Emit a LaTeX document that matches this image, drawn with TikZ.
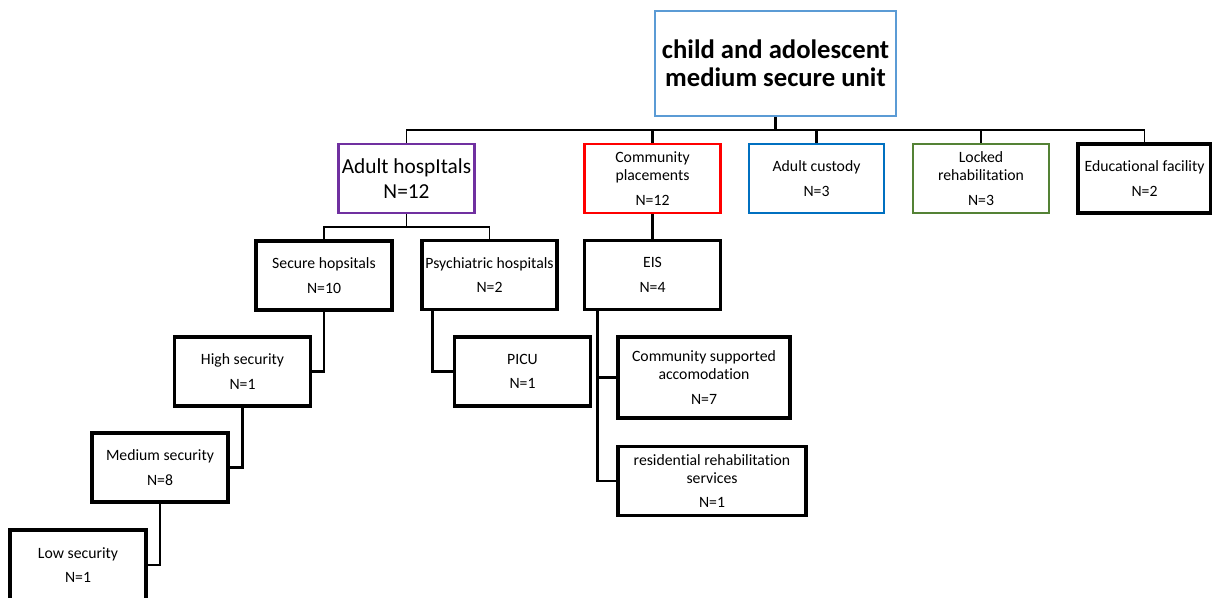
\documentclass[tikz,border=0pt]{standalone}
\usepackage{fontspec}
\setmainfont{Carlito}[Ligatures=NoCommon]
\usetikzlibrary{calc}

\definecolor{rootblue}{HTML}{5B9BD5}
\definecolor{adultpurple}{HTML}{7030A0}
\definecolor{custodyblue}{HTML}{0070C0}
\definecolor{lockedgreen}{HTML}{548235}

\tikzset{
  unitbox/.style={draw, line width=2.4pt, inner sep=0pt, align=center,
    minimum width=102pt, minimum height=51.75pt,
    font=\fontsize{11.8}{13.5}\selectfont},
  topbox/.style={unitbox, line width=1.9pt},
  thinlink/.style={line width=0.8pt},
  thicklink/.style={line width=2.2pt},
}

\begin{document}
\begin{tikzpicture}[x=0.75pt, y=-0.75pt]
  \useasboundingbox (0,0) rectangle (1212,597);

  % root
  \node[topbox, draw=rootblue, minimum width=180.75pt, minimum height=78.75pt,
    font=\bfseries\fontsize{20}{21}\selectfont] (root) at (775.5,63.5)
    {child and adolescent\\medium secure unit};

  % first level
  \node[topbox, draw=adultpurple, font=\fontsize{16}{18.75}\selectfont] (AH) at (406.5,178.5)
    {Adult hospItals\\N=12};
  \node[topbox, draw=red] (CP) at (652.5,178.5) {Community\\placements\\[5pt]N=12};
  \node[topbox, draw=custodyblue, minimum width=101.25pt] (AC) at (816.5,178.5) {Adult custody\\[5pt]N=3};
  \node[topbox, draw=lockedgreen] (LR) at (981,178.5) {Locked\\rehabilitation\\[5pt]N=3};
  \node[unitbox, line width=2.6pt, minimum width=99.75pt] (ED) at (1144.5,178.5) {Educational facility\\[5pt]N=2};

  % second level
  \node[unitbox] (SH) at (324,275.5) {Secure hopsitals\\[5pt]N=10};
  \node[unitbox, minimum width=101.25pt] (PH) at (489.5,275) {Psychiatric hospitals\\[5pt]N=2};
  \node[unitbox] (EIS) at (652.5,275) {EIS\\[5pt]N=4};

  % third level and below
  \node[unitbox] (HS) at (242.5,371.5) {High security\\[5pt]N=1};
  \node[unitbox] (MS) at (160,467.5) {Medium security\\[5pt]N=8};
  \node[unitbox, minimum height=52.5pt] (LS) at (78,565) {Low security\\[5pt]N=1};
  \node[unitbox] (PICU) at (522.5,371.5) {PICU\\[5pt]N=1};
  \node[unitbox, minimum width=129pt, minimum height=60.75pt] (CSA) at (704,377.5)
    {Community supported\\accomodation\\[5pt]N=7};
  \node[unitbox, minimum width=141pt] (RR) at (712,481)
    {residential rehabilitation\\services\\[5pt]N=1};

  \coordinate (bus) at (775.5,130);
  \coordinate (hbus) at (406.5,227);

  % connectors
  \draw[thicklink] (root.south) -- (bus);
  \draw[thinlink] (AH.north) |- (CP.north |- bus);
  \draw[thicklink] (CP.north) |- (bus) -| (AC.north);
  \draw[thinlink] (AC.north |- bus) -| (ED.north);
  \draw[thinlink] (LR.north) -- (LR.north |- bus);

  \draw[thinlink] (AH.south) -- (hbus);
  \draw[thinlink] (SH.north) |- (hbus) -| (PH.north);
  \draw[thicklink] (CP.south) -- (EIS.north);

  \draw[thicklink] (SH.south) |- (HS.east);
  \draw[thicklink] (HS.south) |- (MS.east);
  \draw[thicklink] (MS.south) |- (LS.east);
  \draw[thicklink] ($(PH.south west)+(12,0)$) |- (PICU.west);
  \draw[thicklink] ($(EIS.south west)+(15,0)$) |- (CSA.west);
  \draw[thicklink] ($(EIS.south west)+(15,0)$) |- (RR.west);
\end{tikzpicture}
\end{document}
